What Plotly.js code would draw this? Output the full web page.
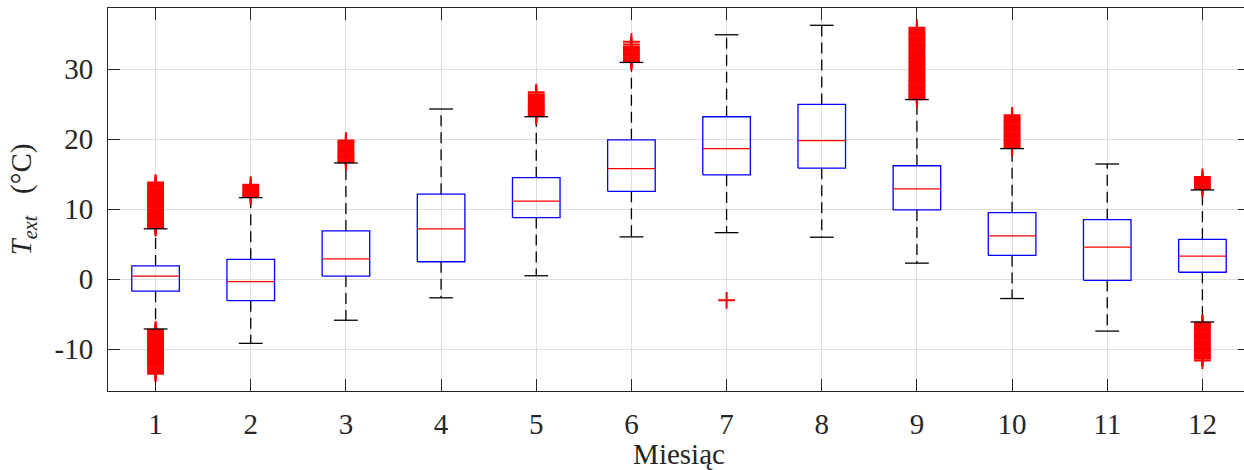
<!DOCTYPE html>
<html>
<head>
<meta charset="utf-8">
<script src="https://cdn.plot.ly/plotly-3.0.1.min.js"></script>
<style>
  html, body { margin: 0; padding: 0; overflow: hidden; background: #fff; }
  #chart { width: 1252px; height: 470px; }
</style>
</head>
<body>
<div id="chart"></div>
<script>
// Monthly distribution of outdoor temperature (box plot statistics)
const months = [1, 2, 3, 4, 5, 6, 7, 8, 9, 10, 11, 12];
const q1      = [-1.7, -3.05, 0.45, 2.5, 8.8, 12.55, 14.9, 15.85, 9.9, 3.4, -0.15, 1.0];
const medians = [0.45, -0.35, 2.9, 7.2, 11.15, 15.8, 18.65, 19.8, 12.9, 6.2, 4.6, 3.3];
const q3      = [1.9, 2.85, 6.9, 12.15, 14.5, 19.9, 23.2, 24.95, 16.2, 9.5, 8.5, 5.7];
const whiskerLow  = [-7.1, -9.15, -5.85, -2.65, 0.5, 6.05, 6.65, 6.0, 2.3, -2.75, -7.4, -6.1];
const whiskerHigh = [7.2, 11.65, 16.6, 24.3, 23.2, 30.95, 34.9, 36.25, 25.65, 18.65, 16.45, 12.75];

// Outlying observations per month
const outJan = [7.3, 7.4, 7.6, 7.7, 7.9, 8.0, 8.2, 8.3, 8.5, 8.6, 8.8, 8.9, 9.1, 9.2, 9.4, 9.5,
                9.7, 9.9, 10.0, 10.2, 10.3, 10.5, 10.6, 10.8, 11.0, 11.1, 11.3, 11.5, 11.6, 11.8,
                12.0, 12.1, 12.3, 12.5, 12.6, 12.8, 13.0, 13.2, 13.4, 13.6, 13.8,
                -7.2, -7.4, -7.5, -7.7, -7.8, -8.0, -8.1, -8.3, -8.4, -8.6, -8.7, -8.9, -9.0,
                -9.2, -9.3, -9.5, -9.6, -9.8, -10.0, -10.1, -10.3, -10.4, -10.6, -10.8, -10.9,
                -11.1, -11.3, -11.4, -11.6, -11.8, -12.0, -12.1, -12.3, -12.5, -12.7, -12.9,
                -13.1, -13.3, -13.5];
const outFeb = [11.8, 12.0, 12.1, 12.3, 12.5, 12.7, 12.9, 13.1, 13.3, 13.5];
const outMar = [16.7, 16.9, 17.0, 17.2, 17.4, 17.5, 17.7, 17.9, 18.0, 18.2, 18.4, 18.6, 18.8,
                19.0, 19.2, 19.4, 19.6, 19.8];
const outApr = [];
const outMay = [23.3, 23.5, 23.6, 23.8, 24.0, 24.1, 24.3, 24.5, 24.6, 24.8, 25.0, 25.2, 25.4,
                25.6, 25.8, 26.0, 26.2, 26.4, 26.7];
const outJun = [31.0, 31.2, 31.3, 31.5, 31.7, 31.9, 32.0, 32.2, 32.4, 32.6, 32.8, 33.0, 33.2,
                33.5, 33.9];
const outJul = [-3.0];
const outAug = [];
const outSep = [25.7, 25.9, 26.0, 26.2, 26.4, 26.5, 26.7, 26.9, 27.0, 27.2, 27.4, 27.6, 27.7,
                27.9, 28.1, 28.3, 28.4, 28.6, 28.8, 29.0, 29.2, 29.4, 29.6, 29.8, 30.0, 30.2,
                30.4, 30.6, 30.8, 31.0, 31.2, 31.4, 31.6, 31.8, 32.0, 32.3, 32.5, 32.7, 32.9,
                33.1, 33.3, 33.5, 33.7, 33.9, 34.1, 34.3, 34.5, 34.7, 34.9, 35.1, 35.3, 35.5,
                35.7, 35.9];
const outOct = [18.8, 19.0, 19.1, 19.3, 19.5, 19.7, 19.8, 20.0, 20.2, 20.4, 20.6, 20.8, 21.0,
                21.2, 21.4, 21.6, 21.8, 22.0, 22.2, 22.4, 22.6, 22.8, 23.0, 23.2, 23.4];
const outNov = [];
const outDec = [12.9, 13.1, 13.3, 13.5, 13.7, 13.9, 14.1, 14.3, 14.6,
                -6.2, -6.4, -6.6, -6.7, -6.9, -7.1, -7.3, -7.5, -7.7, -7.9, -8.1, -8.3, -8.5,
                -8.7, -8.9, -9.1, -9.3, -9.5, -9.7, -9.9, -10.1, -10.3, -10.5, -10.7, -10.9,
                -11.1, -11.3, -11.6];
const outliersByMonth = [outJan, outFeb, outMar, outApr, outMay, outJun,
                         outJul, outAug, outSep, outOct, outNov, outDec];

const yTickVals = [-10, 0, 10, 20, 30];
const yTickText = ['-10', '0', '10', '20', '30'];

// Geometry (in x-axis units)
const halfBox = 0.25;
const halfCap = 0.125;

const boxX = [], boxY = [], medX = [], medY = [];
const whX = [], whY = [], capX = [], capY = [];
const outX = [], outY = [];

months.forEach((m, i) => {
  boxX.push(m - halfBox, m + halfBox, m + halfBox, m - halfBox, m - halfBox, null);
  boxY.push(q1[i], q1[i], q3[i], q3[i], q1[i], null);
  medX.push(m - halfBox, m + halfBox, null);
  medY.push(medians[i], medians[i], null);
  whX.push(m, m, null, m, m, null);
  whY.push(q3[i], whiskerHigh[i], null, q1[i], whiskerLow[i], null);
  capX.push(m - halfCap, m + halfCap, null, m - halfCap, m + halfCap, null);
  capY.push(whiskerHigh[i], whiskerHigh[i], null, whiskerLow[i], whiskerLow[i], null);
  outliersByMonth[i].forEach(v => { outX.push(m); outY.push(v); });
});

const traces = [
  { x: whX, y: whY, type: 'scatter', mode: 'lines', hoverinfo: 'skip',
    line: { color: '#000000', width: 1.3, dash: '11px,6px' } },
  { x: outX, y: outY, type: 'scatter', mode: 'markers', hoverinfo: 'y',
    marker: { symbol: 'cross-thin-open', size: 12, color: '#ff0000',
              line: { color: '#ff0000', width: 2 } } },
  { x: capX, y: capY, type: 'scatter', mode: 'lines', hoverinfo: 'skip',
    line: { color: '#000000', width: 1.3 } },
  { x: boxX, y: boxY, type: 'scatter', mode: 'lines', hoverinfo: 'skip',
    line: { color: '#0000ff', width: 1.3 } },
  { x: medX, y: medY, type: 'scatter', mode: 'lines', hoverinfo: 'skip',
    line: { color: '#ff0000', width: 1.3 } }
];

const serif = 'Liberation Serif, Times New Roman, serif';
const axisCommon = {
  showline: true, linecolor: '#262626', linewidth: 1,
  mirror: 'ticks', ticks: 'inside', ticklen: 12, tickwidth: 1, tickcolor: '#262626',
  showgrid: true, gridcolor: '#dedede', gridwidth: 1, zeroline: false,
  tickfont: { family: serif, size: 29, color: '#262626' }
};

const layout = {
  width: 1252, height: 470,
  margin: { l: 108, r: 2, t: 8, b: 79 },
  paper_bgcolor: '#ffffff', plot_bgcolor: '#ffffff',
  showlegend: false,
  font: { family: serif, color: '#262626' },
  xaxis: Object.assign({}, axisCommon, {
    range: [0.5, 12.5], tickvals: months, ticktext: months.map(String),
    ticklabelstandoff: 7,
    title: { text: 'Miesiąc', font: { size: 29, color: '#262626' }, standoff: 2 }
  }),
  yaxis: Object.assign({}, axisCommon, {
    range: [-15.95, 38.72], tickvals: yTickVals, ticktext: yTickText,
    ticklabelstandoff: 8,
    title: { text: '<i>T</i><sub><i>ext</i></sub>&#160;&#160;&#160;(°C)',
             font: { size: 29, color: '#262626' }, standoff: 14 }
  })
};

Plotly.newPlot('chart', traces, layout, { displayModeBar: false, staticPlot: true });
</script>
</body>
</html>
